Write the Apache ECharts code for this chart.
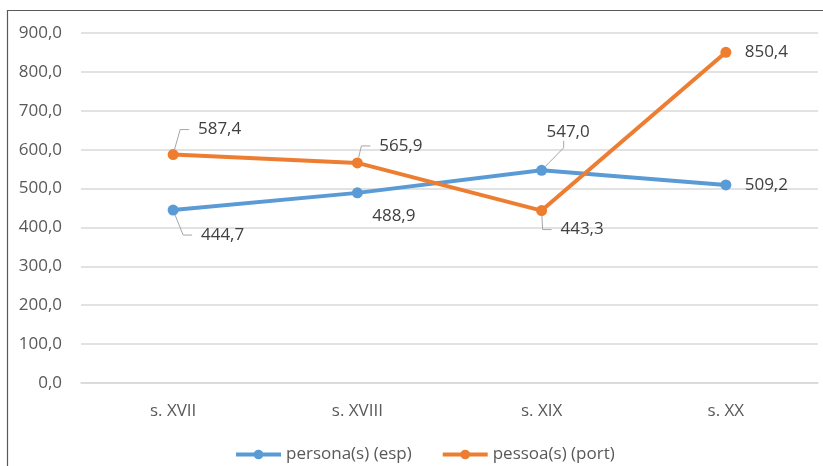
<!DOCTYPE html>
<html>
<head>
<meta charset="utf-8">
<script src="https://cdn.jsdelivr.net/npm/echarts@6/dist/echarts.min.js"></script>
<style>
html,body{margin:0;padding:0;background:#fff;}
#chart{width:823px;height:466px;}
</style>
</head>
<body>
<div id="chart"></div>
<script>
const categories = ['s. XVII', 's. XVIII', 's. XIX', 's. XX'];
const espName = 'persona(s) (esp)';
const portName = 'pessoa(s) (port)';
const espValues = [444.7, 488.9, 547.0, 509.2];
const portValues = [587.4, 565.9, 443.3, 850.4];
const yMin = 0, yMax = 900, yInterval = 100;

// label placement (offset from point centre to label text's left-middle), per series
const GAP = 9; // width of the two leading spaces before each label text
const espLabelOffset = [[28 - GAP, 25], [15 - GAP, 23], [5 - GAP, -38], [19 - GAP, 0]];
const portLabelOffset = [[25 - GAP, -25], [22 - GAP, -17], [19 - GAP, 19], [19 - GAP, 0]];
const espLeader = [true, false, true, false];
const portLeader = [true, true, true, false];
const espTail = [9, 0, 7, 0];
const portTail = [9, 9, 9, 0];

const fmt = v => Number(v).toFixed(1).replace('.', ',');
const FONT = '"Open Sans", sans-serif';

function mkData(vals, leader, tail) {
  return vals.map((v, i) => ({
    value: v,
    labelLine: { show: leader[i], length2: tail[i], lineStyle: { color: '#a6a6a6', width: 1 } }
  }));
}
function layoutFor(offsets) {
  return function (p) {
    const cx = p.rect.x + p.rect.width / 2;
    const cy = p.rect.y + p.rect.height / 2;
    const o = offsets[p.dataIndex];
    return { x: cx + o[0], y: cy + o[1], align: 'left', verticalAlign: 'middle' };
  };
}
const labelStyle = {
  show: true, position: 'right', formatter: p => '  ' + fmt(p.value),
  fontFamily: FONT, fontSize: 17, color: '#404040'
};
const leaderStyle = { show: true, length2: 9, lineStyle: { color: '#a6a6a6', width: 1 } };

const chart = echarts.init(document.getElementById('chart'), null, { renderer: 'canvas' });
chart.setOption({
  animation: false,
  backgroundColor: '#fff',
  graphic: [{
    type: 'rect', silent: true, z: 100,
    shape: { x: 7.5, y: 10.5, width: 900, height: 600 },
    style: { fill: 'none', stroke: '#595959', lineWidth: 1.2 }
  }],
  grid: { left: 81, right: 5, top: 33, bottom: 83, containLabel: false },
  legend: {
    data: [espName, portName],
    left: 229, top: 441,
    itemWidth: 45, itemHeight: 12, itemGap: 29,
    lineStyle: { width: 4 },
    textStyle: { fontFamily: FONT, fontSize: 17, color: '#595959' }
  },
  xAxis: {
    type: 'category', data: categories, boundaryGap: true,
    axisLine: { show: true, lineStyle: { color: '#d9d9d9', width: 1.5 } },
    axisTick: { show: false },
    axisLabel: { margin: 20, fontFamily: FONT, fontSize: 17, color: '#595959' }
  },
  yAxis: {
    type: 'value', min: yMin, max: yMax, interval: yInterval,
    axisLine: { show: false }, axisTick: { show: false },
    splitLine: { lineStyle: { color: '#d9d9d9', width: 1.5 } },
    axisLabel: { margin: 19, formatter: v => fmt(v), fontFamily: FONT, fontSize: 17, color: '#595959' }
  },
  series: [
    {
      name: espName, type: 'line', data: mkData(espValues, espLeader, espTail),
      symbol: 'circle', symbolSize: 11,
      itemStyle: { color: '#5b9bd5' },
      lineStyle: { color: '#5b9bd5', width: 4 },
      label: labelStyle, labelLine: leaderStyle,
      labelLayout: layoutFor(espLabelOffset)
    },
    {
      name: portName, type: 'line', data: mkData(portValues, portLeader, portTail),
      symbol: 'circle', symbolSize: 11,
      itemStyle: { color: '#ed7d31' },
      lineStyle: { color: '#ed7d31', width: 4 },
      label: labelStyle, labelLine: leaderStyle,
      labelLayout: layoutFor(portLabelOffset)
    }
  ]
});
</script>
</body>
</html>
